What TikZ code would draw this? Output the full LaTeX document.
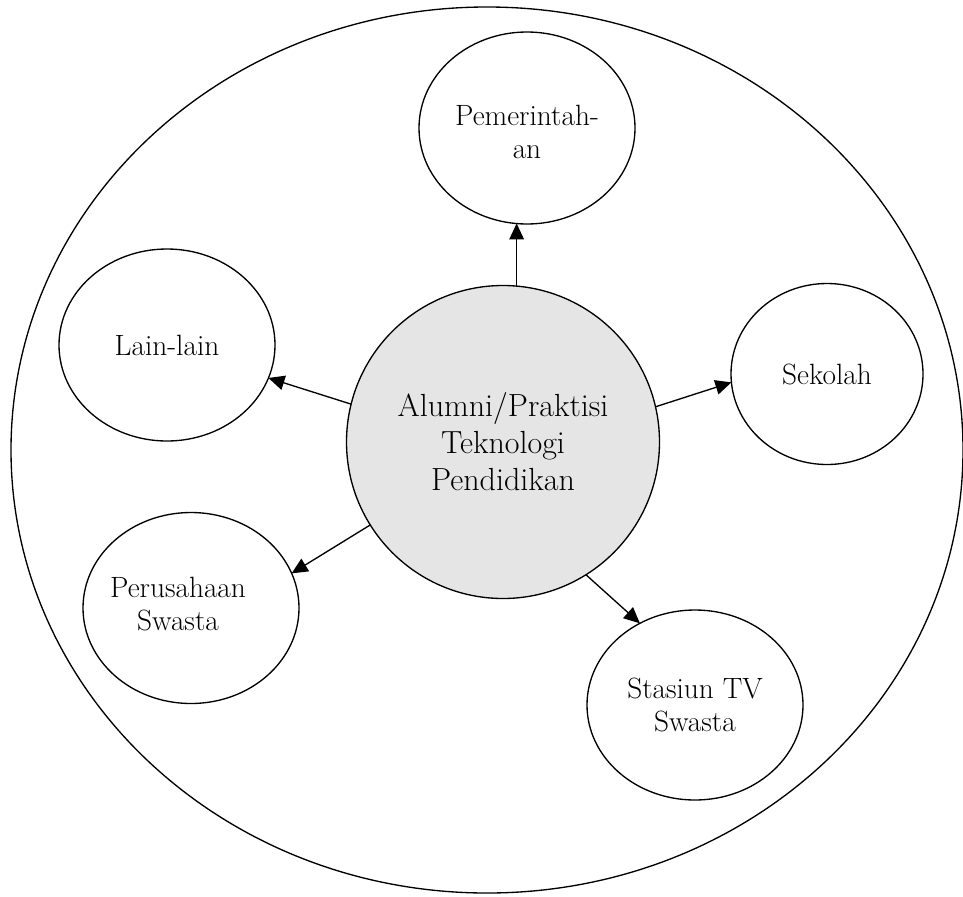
\documentclass[tikz,border=0pt]{standalone}
\usetikzlibrary{shapes.geometric,arrows.meta}
\begin{document}
\begin{tikzpicture}[x=0.75pt,y=-0.75pt,
  line width=1pt,
  smalltext/.style={align=center, font=\fontsize{22pt}{24.75pt}\selectfont},
  bubble/.style={draw, ellipse, inner sep=0pt, outer sep=0pt, smalltext},
  hub/.style={draw, circle, inner sep=0pt, outer sep=0pt, align=center, fill=black!10,
    minimum size=234.75pt, font=\fontsize{24pt}{27.75pt}\selectfont},
  link/.style={-{Triangle[length=12pt,width=11pt]}}]
\useasboundingbox (0,0) rectangle (963,896);
\node[draw, ellipse, inner sep=0pt, minimum width=714pt, minimum height=664.5pt] (outer) at (487,450) {};
\node[hub] (hub) at (503,442) {Alumni/Praktisi\\Teknologi\\Pendidikan};
\node[bubble, minimum width=162pt, minimum height=144pt,
  label={[name=pemtext, smalltext, yshift=-3pt]center:Pemerintah-\\an}] (pem) at (527,128) {};
\node[bubble, minimum width=162pt, minimum height=144pt] (lain) at (167,345) {Lain-lain};
\node[bubble, minimum width=144pt, minimum height=135.75pt] (sek) at (827,374) {Sekolah};
\node[bubble, minimum width=162pt, minimum height=143.25pt,
  label={[name=perstext, smalltext, xshift=-9.75pt, yshift=3pt]center:Perusahaan\\Swasta}] (pers) at (191,608) {};
\node[bubble, minimum width=162pt, minimum height=142.5pt] (tv) at (695,705) {Stasiun TV\\Swasta};
\draw[link] (hub.85.6) -- (hub.85.6 |- pem.263);
\draw[link] (hub.166.7) -- (lain.342.5);
\draw[link] (hub.13.4) -- (sek.185.4);
\draw[link] (hub.212) -- (pers.19.4);
\draw[link] (hub.302.6) -- (tv.124.7);
\end{tikzpicture}
\end{document}
